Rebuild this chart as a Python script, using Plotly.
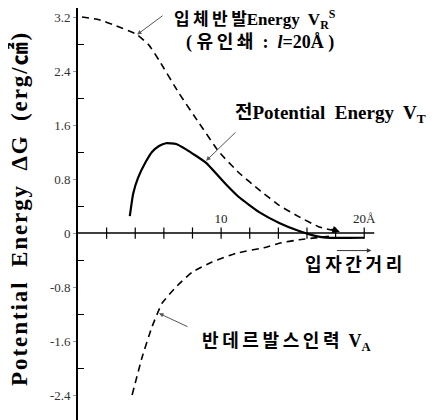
import plotly.graph_objects as go

# Steric repulsion energy V_R^S (dashed)
vr_x = [0.28, 1.47, 2.66, 4.13, 4.97, 5.66, 7.06, 8.46, 9.86, 11.26, 12.66, 14.06, 15.45, 16.85, 18.04]
vr_y = [3.20, 3.16, 3.07, 2.94, 2.78, 2.56, 2.07, 1.63, 1.20, 0.89, 0.64, 0.41, 0.24, 0.09, 0.03]

# Total potential energy V_T (solid)
vt_x = [3.62, 3.85, 4.20, 4.70, 5.17, 5.66, 6.15, 6.85, 7.55, 8.95, 10.35, 11.26, 12.66, 14.06, 15.45, 16.36, 17.34, 20.0]
vt_y = [0.25, 0.58, 0.82, 1.04, 1.20, 1.29, 1.33, 1.32, 1.24, 1.04, 0.72, 0.53, 0.31, 0.15, 0.03, -0.03, -0.07, -0.07]

# Van der Waals attraction V_A (dashed)
va_x = [3.78, 4.48, 5.17, 5.87, 6.85, 7.97, 9.37, 11.05, 13.15, 14.06, 15.45, 17.06, 17.76]
va_y = [-2.40, -1.84, -1.39, -1.04, -0.80, -0.58, -0.43, -0.30, -0.21, -0.15, -0.10, -0.06, -0.04]

y_tickvals = [3.2, 2.4, 1.6, 0.8, 0, -0.8, -1.6, -2.4]
y_ticktext = ["3.2", "2.4", "1.6", "0.8", "0", "-0.8", "-1.6", "-2.4"]
y_minor = [2.8, 2.0, 1.2, 0.4, -0.4, -1.2, -2.0]
x_ticks = [2, 4, 6, 8, 10, 12, 14, 16, 18, 20]
x_labels_at = [10, 20]
x_labels = ["10", "20Å"]

SERIF = "Liberation Serif, Noto Sans CJK KR, serif"
XR = [0, 22.5]
YR = [-2.77, 3.334]
PX_X = 14.3   # px per x unit (for placing labels relative to axes)
PX_Y = 67.5   # px per y unit

fig = go.Figure()
dash_line = dict(color="black", width=1.6, dash="7px,5px", shape="spline", smoothing=0.4)
fig.add_trace(go.Scatter(x=vr_x, y=vr_y, mode="lines", line=dash_line, hoverinfo="skip"))
fig.add_trace(go.Scatter(x=vt_x, y=vt_y, mode="lines",
                         line=dict(color="black", width=2.2, shape="spline", smoothing=0.4),
                         hoverinfo="skip"))
fig.add_trace(go.Scatter(x=va_x, y=va_y, mode="lines", line=dash_line, hoverinfo="skip"))
# crossing ticks on the x axis
fig.add_trace(go.Scatter(x=x_ticks, y=[0] * len(x_ticks), mode="markers",
                         marker=dict(symbol="line-ns", size=8, line=dict(color="black", width=1.2)),
                         hoverinfo="skip"))

# x-axis line at y = 0
fig.add_shape(type="line", xref="x", yref="y", x0=0, x1=20.7, y0=0, y1=0,
              line=dict(color="black", width=1.6))

pos = (0 - YR[0]) / (YR[1] - YR[0])
fig.update_layout(
    width=433, height=412,
    margin=dict(l=70, r=41, t=0, b=0),
    paper_bgcolor="white", plot_bgcolor="white",
    showlegend=False,
    xaxis=dict(range=XR, anchor="free", position=pos, side="top",
               tickvals=x_labels_at, ticktext=x_labels, ticks="", ticklabelstandoff=7,
               showgrid=False, zeroline=False, showline=False,
               tickfont=dict(family=SERIF, size=13, color="#222")),
    yaxis=dict(range=YR, tickvals=y_tickvals, ticktext=y_ticktext,
               ticks="outside", ticklen=3, tickcolor="#999",
               minor=dict(tickvals=y_minor, ticks="inside", ticklen=6, tickcolor="black", tickwidth=1.2),
               showgrid=False, zeroline=False, showline=True, linecolor="black", linewidth=1.8,
               tickfont=dict(family=SERIF, size=13, color="#333")),
)


def dx(px):
    return (px - 78) / PX_X


def dy(py):
    return (233 - py) / PX_Y


T = "\u2009"
H = "\u200a"
title = "Potential Energy ΔG (erg/㎠)"
ann = []
# y-axis title
ann.append(dict(xref="paper", yref="paper", x=-0.18, y=0.51,
                text="<b>" + H.join(title).replace(" ", "  ") + "</b>", textangle=-90, showarrow=False,
                font=dict(family=SERIF, size=23, color="black"), xanchor="center", yanchor="middle"))
# labels
ann.append(dict(xref="x", yref="y", x=dx(172), y=dy(19),
                text="<b>" + T.join("입체반발") + "Energy  V<sub>R</sub><sup>S</sup></b>", showarrow=False,
                font=dict(family=SERIF, size=17, color="black"), xanchor="left", yanchor="middle"))
ann.append(dict(xref="x", yref="y", x=dx(184), y=dy(42),
                text="<b>( " + T.join("유인쇄") + "  :  <i>l</i>=20Å )</b>", showarrow=False,
                font=dict(family=SERIF, size=18, color="black"), xanchor="left", yanchor="middle"))
ann.append(dict(xref="x", yref="y", x=dx(233), y=dy(114),
                text="<b>전Potential  Energy  V<sub>T</sub></b>", showarrow=False,
                font=dict(family=SERIF, size=19, color="black"), xanchor="left", yanchor="middle"))
ann.append(dict(xref="x", yref="y", x=dx(303), y=dy(265),
                text="<b>" + T.join("입자간거리") + "</b>", showarrow=False,
                font=dict(family=SERIF, size=18, color="black"), xanchor="left", yanchor="middle"))
ann.append(dict(xref="x", yref="y", x=dx(200), y=dy(342),
                text="<b>" + T.join("반데르발스인력") + "  V<sub>A</sub></b>", showarrow=False,
                font=dict(family=SERIF, size=18, color="black"), xanchor="left", yanchor="middle"))
# leader arrows
leader = dict(showarrow=True, text="", arrowhead=2, arrowsize=0.9, arrowwidth=1,
              arrowcolor="#555", xref="x", yref="y", standoff=0)
ann.append(dict(leader, x=4.13, y=2.94, ax=27, ay=-20))
ann.append(dict(leader, x=8.95, y=1.07, ax=31, ay=-30))
ann.append(dict(leader, x=5.66, y=-1.19, ax=30, ay=14))
ann.append(dict(leader, x=20.5, y=-0.26, ax=-36, ay=0, arrowcolor="#333"))
# arrow at end of V_R curve
ann.append(dict(showarrow=True, text="", arrowhead=2, arrowsize=1, arrowwidth=1.5,
                arrowcolor="black", xref="x", yref="y", x=18.3, y=0.02, ax=-10, ay=-3, standoff=0))
fig.update_layout(annotations=ann)

fig.write_html("out.html")
